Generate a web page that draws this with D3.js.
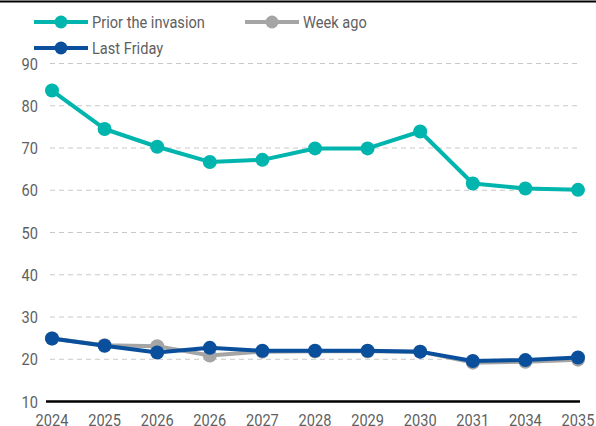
<html>
<head>
<script src="https://d3js.org/d3.v7.min.js"></script>
<style>
body { margin:0; background:#fff; }
text { font-family: "Liberation Sans Narrow", "Arial Narrow", Roboto, sans-serif; fill:#5f5f5f; }
</style>
</head>
<body>
<svg width=596 height=426></svg>
<script>

var years = ["2024","2025","2026","2026","2027","2028","2029","2030","2031","2034","2035"];
var prior = [83.6, 74.5, 70.3, 66.7, 67.2, 69.9, 69.9, 73.9, 61.6, 60.4, 60.1];
var weekAgo = [24.9, 23.3, 23.1, 20.9, 21.8, 21.9, 21.9, 21.8, 19.2, 19.4, 19.9];
var lastFriday = [24.9, 23.2, 21.6, 22.7, 22.0, 22.0, 22.0, 21.8, 19.6, 19.8, 20.4];
var yTicks = [10,20,30,40,50,60,70,80,90];

var series = [
  {name:"Week ago", values:weekAgo, color:"#a5a5a5"},
  {name:"Prior the invasion", values:prior, color:"#00b5ad"},
  {name:"Last Friday", values:lastFriday, color:"#0a4f9c"}
];

var svg = d3.select("svg");
var squeeze = 0.86; // fake a condensed face

function label(sel, px, py, anchor, txt) {
  sel.append("text")
    .attr("transform","translate("+px+","+py+") scale("+squeeze+",1)")
    .attr("text-anchor",anchor).attr("font-size",17)
    .text(txt);
}

// top rule
svg.append("line").attr("x1",0).attr("x2",596).attr("y1",1.5).attr("y2",1.5)
  .attr("stroke","#000").attr("stroke-width",2);

var x = d3.scalePoint().domain(d3.range(years.length)).range([52,578]);
var y = d3.scaleLinear().domain([10,90]).range([401.5,63.5]);

// gridlines
svg.append("g").selectAll("line").data(yTicks.filter(function(d){return d>10;})).enter()
  .append("line")
  .attr("x1",50).attr("x2",580)
  .attr("y1",function(d){return y(d);}).attr("y2",function(d){return y(d);})
  .attr("stroke","#c8c8c8").attr("stroke-dasharray","5,4").attr("stroke-width",1);

// y labels
var gy = svg.append("g");
yTicks.forEach(function(d){ label(gy, 38, y(d)+6, "end", d); });

// x axis line
svg.append("line").attr("x1",46).attr("x2",580).attr("y1",y(10)).attr("y2",y(10))
  .attr("stroke","#000").attr("stroke-width",2.5);

// x labels
var gx = svg.append("g");
years.forEach(function(d,i){ label(gx, x(i), 426, "middle", d); });

var line = d3.line().x(function(d,i){return x(i);}).y(function(d){return y(d);});

series.forEach(function(s){
  var g = svg.append("g");
  g.append("path").attr("d",line(s.values)).attr("fill","none")
    .attr("stroke",s.color).attr("stroke-width",4).attr("stroke-linejoin","round");
  g.selectAll("circle").data(s.values).enter().append("circle")
    .attr("cx",function(d,i){return x(i);}).attr("cy",function(d){return y(d);})
    .attr("r",7).attr("fill",s.color);
});

// legend
var legend = [
  {name:"Prior the invasion", color:"#00b5ad", x:34, y:22},
  {name:"Week ago", color:"#a5a5a5", x:245, y:22},
  {name:"Last Friday", color:"#0a4f9c", x:34, y:48}
];
legend.forEach(function(l){
  var g = svg.append("g").attr("transform","translate("+l.x+","+l.y+")");
  g.append("line").attr("x1",0).attr("x2",54).attr("stroke",l.color).attr("stroke-width",4);
  g.append("circle").attr("cx",27).attr("r",6.5).attr("fill",l.color);
  label(g, 58, 6, "start", l.name);
});

</script>
</body>
</html>
